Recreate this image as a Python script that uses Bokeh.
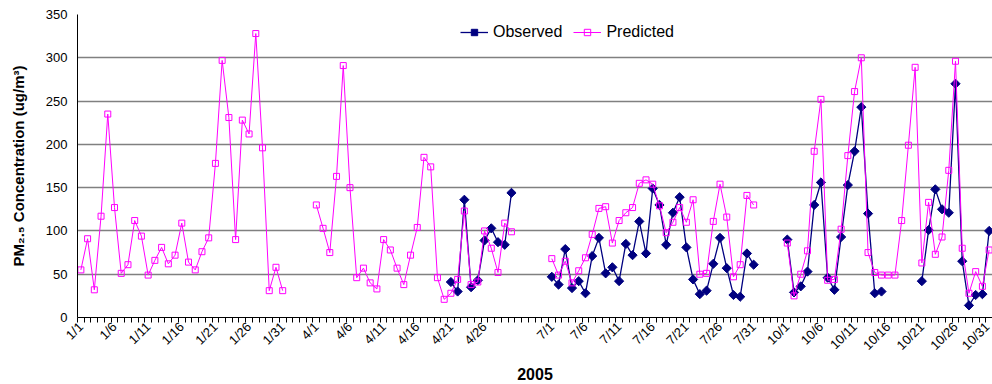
import math
import numpy as np
from bokeh.plotting import figure
from bokeh.models import Range1d, FixedTicker, Legend, LegendItem
from bokeh.embed import file_html
from bokeh.resources import INLINE

# ---- data -------------------------------------------------------------
month_numbers = [1, 4, 7, 10]
days_in_month = [31, 30, 31, 31]
blank_categories_after = [4, 5, 4, 0]

jan_predicted = [55, 91, 32, 117, 235, 127, 51, 61, 112, 94, 49, 66, 81, 62, 72, 109,
                 64, 55, 76, 92, 178, 297, 231, 90, 228, 212, 328, 196, 31, 58, 31]
jan_observed = [None] * 31

apr_predicted = [130, 103, 75, 163, 291, 150, 46, 57, 40, 33, 90, 78, 57, 38, 72, 104,
                 185, 174, 46, 21, 28, 44, 123, 38, 41, 100, 80, 52, 109, 99]
apr_observed = [None] * 20 + [41, 30, 136, 35, 43, 89, 103, 87, 84, 144]

jul_predicted = [68, 49, 65, 40, 54, 69, 96, 126, 128, 86, 112, 121, 127, 155, 159, 154,
                 129, 98, 110, 127, 110, 136, 50, 51, 111, 154, 116, 47, 61, 141, 130]
jul_observed = [47, 38, 79, 34, 42, 28, 71, 92, 51, 58, 42, 85, 72, 111, 74, 149,
                130, 84, 121, 139, 81, 44, 27, 31, 62, 92, 57, 26, 24, 74, 61]

oct_predicted = [86, 25, 50, 77, 192, 252, 43, 44, 102, 187, 261, 300, 75, 52, 49, 49,
                 49, 112, 199, 289, 63, 133, 73, 93, 170, 296, 80, 28, 53, 36, 78]
oct_observed = [90, 29, 36, 53, 130, 156, 46, 32, 93, 153, 192, 243, 120, 28, 30,
                None, None, None, None, None, 42, 101, 148, 125, 121, 270, 65, 14, 26, 27, 100]

y_ticks = [0, 50, 100, 150, 200, 250, 300, 350]
label_every = 5

# ---- build category axis ------------------------------------------------
categories, predicted, observed = [], [], []
month_pred = [jan_predicted, apr_predicted, jul_predicted, oct_predicted]
month_obs = [jan_observed, apr_observed, jul_observed, oct_observed]
for m, nd, nb, pr, ob in zip(month_numbers, days_in_month, blank_categories_after, month_pred, month_obs):
    categories += [f"{m}/{d}" for d in range(1, nd + 1)]
    predicted += pr
    observed += ob
    categories += [""] * nb
    predicted += [None] * nb
    observed += [None] * nb

x = np.arange(len(categories))
pred_arr = np.array([np.nan if v is None else v for v in predicted], dtype=float)
obs_arr = np.array([np.nan if v is None else v for v in observed], dtype=float)

FONT = "Liberation Sans"

p = figure(width=992, height=384, output_backend="svg", toolbar_location=None,
           x_range=Range1d(-0.5, len(categories) - 0.5), y_range=Range1d(0, 350),
           min_border_left=77, min_border_right=0, min_border_top=14, min_border_bottom=67)
p.outline_line_color = None
p.background_fill_color = "white"
p.border_fill_color = "white"

obs_line = p.line(x, obs_arr, line_color="#000080", line_width=1.3)
obs_pts = p.scatter(x, obs_arr, marker="square", angle=math.pi / 4, size=6.5,
                    fill_color="#000080", line_color="#000080")
pred_line = p.line(x, pred_arr, line_color="#FF00FF", line_width=1)
pred_pts = p.scatter(x, pred_arr, marker="square", size=6, fill_color=None,
                     line_color="#FF00FF", line_width=1)

# grid
p.xgrid.grid_line_color = None
p.ygrid.grid_line_color = "#808080"
p.ygrid.grid_line_width = 1.5

# y axis
p.yaxis.ticker = FixedTicker(ticks=y_ticks)
p.yaxis.major_label_text_font = FONT
p.yaxis.major_label_text_font_size = "13px"
p.yaxis.major_label_text_color = "black"
p.yaxis.major_tick_out = 0
p.yaxis.major_tick_in = 0
p.yaxis.minor_tick_line_color = None
p.yaxis.major_label_standoff = 10
p.yaxis.axis_line_color = "black"
p.yaxis.axis_label = "PM\u2082.\u2085 Concentration (ug/m\u00b3)"
p.yaxis.axis_label_text_font = FONT
p.yaxis.axis_label_text_font_size = "15px"
p.yaxis.axis_label_text_font_style = "bold"
p.yaxis.axis_label_text_color = "black"
p.yaxis.axis_label_standoff = 16

# x axis
label_pos = list(range(0, len(categories), label_every))
p.xaxis.ticker = FixedTicker(ticks=label_pos,
                             minor_ticks=[i - 0.5 for i in range(len(categories) + 1)])
p.xaxis.major_label_overrides = {i: categories[i] for i in label_pos}
p.xaxis.major_tick_line_color = None
p.xaxis.major_tick_out = 5
p.xaxis.major_tick_in = 0
p.xaxis.minor_tick_line_color = "black"
p.xaxis.minor_tick_out = 5
p.xaxis.minor_tick_in = 0
p.xaxis.major_label_orientation = math.pi / 4
p.xaxis.major_label_standoff = 2
p.xaxis.major_label_text_font = FONT
p.xaxis.major_label_text_font_size = "13px"
p.xaxis.major_label_text_color = "black"
p.xaxis.axis_line_color = "black"
p.xaxis.axis_label = "2005"
p.xaxis.axis_label_text_font = FONT
p.xaxis.axis_label_text_font_size = "16px"
p.xaxis.axis_label_text_font_style = "bold"
p.xaxis.axis_label_text_color = "black"
p.xaxis.axis_label_standoff = 7

legend = Legend(items=[LegendItem(label="Observed", renderers=[obs_line, obs_pts]),
                       LegendItem(label="Predicted", renderers=[pred_line, pred_pts])],
                orientation="horizontal", location=(383, 276), padding=0, margin=0,
                spacing=11, glyph_width=28, glyph_height=16, label_height=16,
                label_standoff=5, label_text_font=FONT, label_text_font_size="16px",
                label_text_color="black", border_line_color=None, background_fill_alpha=0)
p.add_layout(legend)

open("out.html", "w").write(file_html(p, INLINE))
